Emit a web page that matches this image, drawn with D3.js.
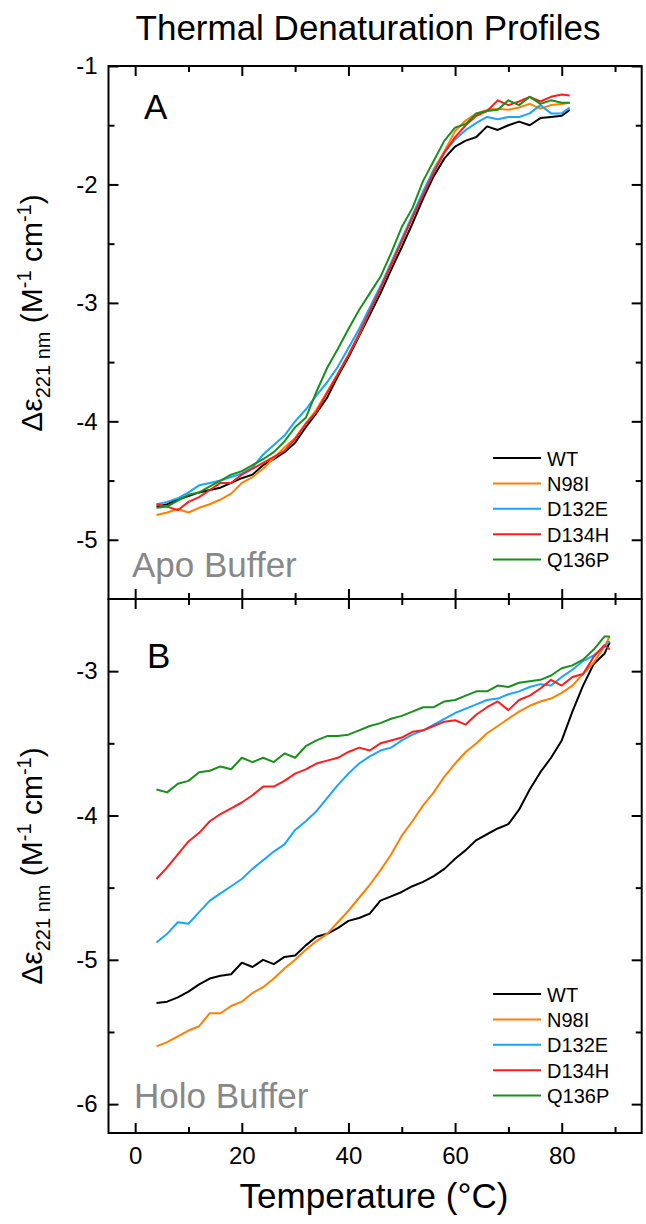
<!DOCTYPE html>
<html>
<head>
<meta charset="utf-8">
<script src="https://cdn.jsdelivr.net/npm/d3@7"></script>
<style>
  body { margin: 0; background: #fff; }
  svg text { font-family: "Liberation Sans", Arial, sans-serif; }
</style>
</head>
<body>
<div id="chart"></div>
<script>
// series names + colours
var names  = ['WT', 'N98I', 'D132E', 'D134H', 'Q136P'];
var colors = ['#000000', '#ff8000', '#18a4ff', '#ff1c1c', '#17911a'];

// panel A (apo buffer) temperatures, deg C
var temps_a = [4, 6, 8, 10, 12, 14, 16, 18, 20, 22, 24, 26, 28, 30, 32, 34, 36, 38, 40, 42,
               44, 46, 48, 50, 52, 54, 56, 58, 60, 62, 64, 66, 68, 70, 72, 74, 76, 78, 80, 81.5];
var a_wt    = [-4.72,-4.70,-4.66,-4.63,-4.60,-4.58,-4.56,-4.52,-4.48,-4.45,-4.37,-4.32,-4.26,-4.18,-4.05,
               -3.93,-3.80,-3.62,-3.46,-3.28,-3.10,-2.92,-2.72,-2.53,-2.33,-2.12,-1.93,-1.78,-1.68,-1.63,
               -1.60,-1.51,-1.54,-1.50,-1.47,-1.50,-1.44,-1.43,-1.42,-1.37];
var a_n98i  = [-4.79,-4.77,-4.74,-4.77,-4.73,-4.70,-4.66,-4.61,-4.52,-4.47,-4.40,-4.31,-4.22,-4.14,-4.02,
               -3.90,-3.75,-3.60,-3.44,-3.27,-3.07,-2.88,-2.68,-2.48,-2.27,-2.07,-1.87,-1.72,-1.55,-1.46,
               -1.40,-1.37,-1.36,-1.37,-1.35,-1.32,-1.36,-1.33,-1.32,-1.31];
var a_d132e = [-4.70,-4.68,-4.65,-4.60,-4.54,-4.52,-4.50,-4.47,-4.44,-4.39,-4.28,-4.20,-4.12,-4.00,-3.90,
               -3.78,-3.67,-3.54,-3.38,-3.22,-3.04,-2.86,-2.66,-2.46,-2.26,-2.06,-1.88,-1.73,-1.62,-1.54,
               -1.48,-1.43,-1.45,-1.43,-1.43,-1.40,-1.33,-1.40,-1.40,-1.35];
var a_d134h = [-4.70,-4.72,-4.75,-4.68,-4.64,-4.58,-4.52,-4.52,-4.45,-4.40,-4.35,-4.30,-4.25,-4.15,-4.02,
               -3.92,-3.76,-3.60,-3.44,-3.26,-3.07,-2.88,-2.68,-2.48,-2.28,-2.09,-1.90,-1.73,-1.60,-1.50,
               -1.42,-1.38,-1.29,-1.33,-1.30,-1.26,-1.30,-1.26,-1.24,-1.25];
var a_q136p = [-4.73,-4.72,-4.67,-4.62,-4.60,-4.55,-4.50,-4.45,-4.42,-4.37,-4.32,-4.26,-4.17,-4.05,-3.97,
               -3.75,-3.55,-3.39,-3.22,-3.06,-2.92,-2.78,-2.58,-2.36,-2.20,-1.97,-1.80,-1.63,-1.52,-1.49,
               -1.40,-1.38,-1.37,-1.29,-1.33,-1.26,-1.32,-1.29,-1.31,-1.31];

// panel B (holo buffer)
var temps_b = [4, 6, 8, 10, 12, 14, 16, 18, 20, 22, 24, 26, 28, 30, 32, 34, 36, 38, 40, 42, 44, 46,
               48, 50, 52, 54, 56, 58, 60, 62, 64, 66, 68, 70, 72, 74, 76, 78, 80, 82, 84, 86, 88, 89];
var b_wt    = [-5.30,-5.29,-5.26,-5.22,-5.17,-5.13,-5.11,-5.10,-5.02,-5.05,-5.00,-5.03,-4.98,-4.97,-4.90,
               -4.84,-4.82,-4.78,-4.73,-4.71,-4.68,-4.59,-4.56,-4.53,-4.49,-4.46,-4.42,-4.37,-4.30,-4.24,
               -4.17,-4.13,-4.09,-4.06,-3.96,-3.82,-3.70,-3.60,-3.48,-3.28,-3.10,-2.95,-2.88,-2.80];
var b_n98i  = [-5.60,-5.57,-5.53,-5.49,-5.46,-5.37,-5.37,-5.32,-5.29,-5.23,-5.19,-5.13,-5.06,-5.00,-4.93,
               -4.87,-4.82,-4.74,-4.66,-4.57,-4.48,-4.38,-4.27,-4.14,-4.04,-3.93,-3.84,-3.73,-3.64,-3.56,
               -3.50,-3.43,-3.38,-3.33,-3.28,-3.24,-3.21,-3.19,-3.15,-3.10,-3.02,-2.94,-2.83,-2.76];
var b_d132e = [-4.88,-4.82,-4.74,-4.75,-4.67,-4.59,-4.54,-4.49,-4.44,-4.37,-4.31,-4.25,-4.20,-4.10,-4.04,
               -3.97,-3.88,-3.79,-3.71,-3.64,-3.59,-3.55,-3.53,-3.48,-3.44,-3.41,-3.37,-3.33,-3.29,-3.26,
               -3.23,-3.20,-3.19,-3.16,-3.14,-3.11,-3.09,-3.10,-3.04,-2.99,-2.93,-2.89,-2.83,-2.79];
var b_d134h = [-4.44,-4.36,-4.27,-4.18,-4.12,-4.04,-3.99,-3.95,-3.91,-3.86,-3.80,-3.80,-3.76,-3.71,-3.68,
               -3.64,-3.62,-3.60,-3.56,-3.53,-3.55,-3.50,-3.48,-3.46,-3.42,-3.41,-3.38,-3.35,-3.34,-3.37,
               -3.30,-3.25,-3.21,-3.27,-3.20,-3.17,-3.12,-3.06,-3.10,-3.04,-3.02,-2.90,-2.82,-2.85];
var b_q136p = [-3.82,-3.84,-3.78,-3.76,-3.70,-3.69,-3.66,-3.68,-3.60,-3.63,-3.60,-3.63,-3.57,-3.60,-3.52,
               -3.48,-3.45,-3.45,-3.44,-3.41,-3.38,-3.36,-3.33,-3.31,-3.28,-3.25,-3.25,-3.21,-3.20,-3.17,
               -3.14,-3.14,-3.10,-3.11,-3.08,-3.07,-3.06,-3.03,-2.98,-2.96,-2.92,-2.85,-2.76,-2.76];

// tick values
var x_ticks   = [0, 20, 40, 60, 80];
var x_minor   = [10, 30, 50, 70, 90];
var ya_ticks  = [-5, -4, -3, -2, -1];
var ya_minor  = [-4.5, -3.5, -2.5, -1.5];
var yb_ticks  = [-6, -5, -4, -3];
var yb_minor  = [-5.5, -4.5, -3.5];

var width  = 646;
var height = 1224;
var left   = 108.5;
var right  = 641.7;

// plain hyphen for negatives, like the original
var plain = function(d) { return String(d); };

var svg = d3.select('#chart')
            .append('svg')
            .attr('width', width)
            .attr('height', height);

var x_scale = d3.scaleLinear()
                .domain([-5, 95])
                .range([left, right]);

function draw_panel(cfg) {
    var y_scale = d3.scaleLinear()
                    .domain(cfg.domain)
                    .range([cfg.bottom, cfg.top]);

    var g = svg.append('g');

    // lines
    var line = d3.line()
                 .x(function(d) { return x_scale(d[0]); })
                 .y(function(d) { return y_scale(d[1]); });

    cfg.series.forEach(function(vals, i) {
        var pts = cfg.temps.map(function(t, j) { return [t, vals[j]]; });
        g.append('path')
         .datum(pts)
         .attr('fill', 'none')
         .attr('stroke', colors[i])
         .attr('stroke-width', 2)
         .attr('stroke-linejoin', 'round')
         .attr('d', line);
    });

    // axes, ticks all pointing inward
    var ax = [];
    ax.push(g.append('g').attr('transform', 'translate(' + left + ',0)')
             .call(d3.axisLeft(y_scale).tickValues(cfg.ticks).tickSizeInner(-10).tickSizeOuter(0)
                    .tickPadding(11).tickFormat(plain)));
    ax.push(g.append('g').attr('transform', 'translate(' + left + ',0)')
             .call(d3.axisLeft(y_scale).tickValues(cfg.minor).tickSizeInner(-6).tickSizeOuter(0).tickFormat('')));
    ax.push(g.append('g').attr('transform', 'translate(' + right + ',0)')
             .call(d3.axisRight(y_scale).tickValues(cfg.ticks).tickSizeInner(-10).tickSizeOuter(0).tickFormat('')));
    ax.push(g.append('g').attr('transform', 'translate(' + right + ',0)')
             .call(d3.axisRight(y_scale).tickValues(cfg.minor).tickSizeInner(-6).tickSizeOuter(0).tickFormat('')));
    ax.push(g.append('g').attr('transform', 'translate(0,' + cfg.top + ')')
             .call(d3.axisTop(x_scale).tickValues(x_ticks).tickSizeInner(-10).tickSizeOuter(0).tickFormat('')));
    ax.push(g.append('g').attr('transform', 'translate(0,' + cfg.top + ')')
             .call(d3.axisTop(x_scale).tickValues(x_minor).tickSizeInner(-6).tickSizeOuter(0).tickFormat('')));
    var bottom_axis = d3.axisBottom(x_scale).tickValues(x_ticks).tickSizeInner(-10).tickSizeOuter(0);
    if (cfg.labels) {
        bottom_axis.tickPadding(14).tickFormat(plain);
    } else {
        bottom_axis.tickFormat('');
    }
    ax.push(g.append('g').attr('transform', 'translate(0,' + cfg.bottom + ')').call(bottom_axis));
    ax.push(g.append('g').attr('transform', 'translate(0,' + cfg.bottom + ')')
             .call(d3.axisBottom(x_scale).tickValues(x_minor).tickSizeInner(-6).tickSizeOuter(0).tickFormat('')));

    ax.forEach(function(a) {
        a.select('.domain').remove();
        a.selectAll('line').attr('stroke', '#000').attr('stroke-width', 2);
        a.selectAll('text').style('font-size', '24px').attr('fill', '#000');
    });

    // frame
    g.append('rect')
     .attr('x', left)
     .attr('y', cfg.top)
     .attr('width', right - left)
     .attr('height', cfg.bottom - cfg.top)
     .attr('fill', 'none')
     .attr('stroke', '#000')
     .attr('stroke-width', 2);

    // panel letter
    g.append('text')
     .attr('x', cfg.letter_x)
     .attr('y', cfg.letter_y)
     .style('font-size', '35px')
     .text(cfg.letter);

    // buffer name
    g.append('text')
     .attr('x', cfg.buffer_x)
     .attr('y', cfg.buffer_y)
     .attr('fill', '#888888')
     .style('font-size', '35px')
     .text(cfg.buffer);

    // legend
    var legend = g.append('g').attr('class', 'legend');
    names.forEach(function(n, i) {
        var yy = cfg.legend_y + i * 25.4;
        legend.append('line')
              .attr('x1', 493).attr('x2', 541)
              .attr('y1', yy).attr('y2', yy)
              .attr('stroke', colors[i])
              .attr('stroke-width', 2);
        legend.append('text')
              .attr('x', 547)
              .attr('y', yy + 7.5)
              .style('font-size', '20px')
              .text(n);
    });

    // y label
    var lab = g.append('text')
               .attr('transform', 'translate(42,' + cfg.label_y + ') rotate(-90)')
               .attr('text-anchor', 'middle')
               .style('font-size', '30px');
    lab.append('tspan').text('\u0394\u03b5');
    lab.append('tspan').attr('dy', 8).style('font-size', '20px').text('221 nm');
    lab.append('tspan').attr('dy', -8).text(' (M');
    lab.append('tspan').attr('dy', -11).style('font-size', '20px').text('-1');
    lab.append('tspan').attr('dy', 11).text(' cm');
    lab.append('tspan').attr('dy', -11).style('font-size', '20px').text('-1');
    lab.append('tspan').attr('dy', 11).text(')');
}

draw_panel({
    domain: [-5.5, -1], top: 66, bottom: 599,
    temps: temps_a,
    series: [a_wt, a_n98i, a_d132e, a_d134h, a_q136p],
    ticks: ya_ticks, minor: ya_minor, labels: false,
    letter: 'A', letter_x: 144, letter_y: 119,
    buffer: 'Apo Buffer', buffer_x: 132, buffer_y: 577,
    legend_y: 458, label_y: 313
});

draw_panel({
    domain: [-6.2, -2.5], top: 599, bottom: 1133,
    temps: temps_b,
    series: [b_wt, b_n98i, b_d132e, b_d134h, b_q136p],
    ticks: yb_ticks, minor: yb_minor, labels: true,
    letter: 'B', letter_x: 147, letter_y: 668,
    buffer: 'Holo Buffer', buffer_x: 134, buffer_y: 1108,
    legend_y: 994, label_y: 866
});

// title
svg.append('text')
   .attr('x', 368)
   .attr('y', 40)
   .attr('text-anchor', 'middle')
   .style('font-size', '35px')
   .text('Thermal Denaturation Profiles');

// x label
svg.append('text')
   .attr('x', 374)
   .attr('y', 1208)
   .attr('text-anchor', 'middle')
   .style('font-size', '35px')
   .text('Temperature (\u00b0C)');
</script>
</body>
</html>
